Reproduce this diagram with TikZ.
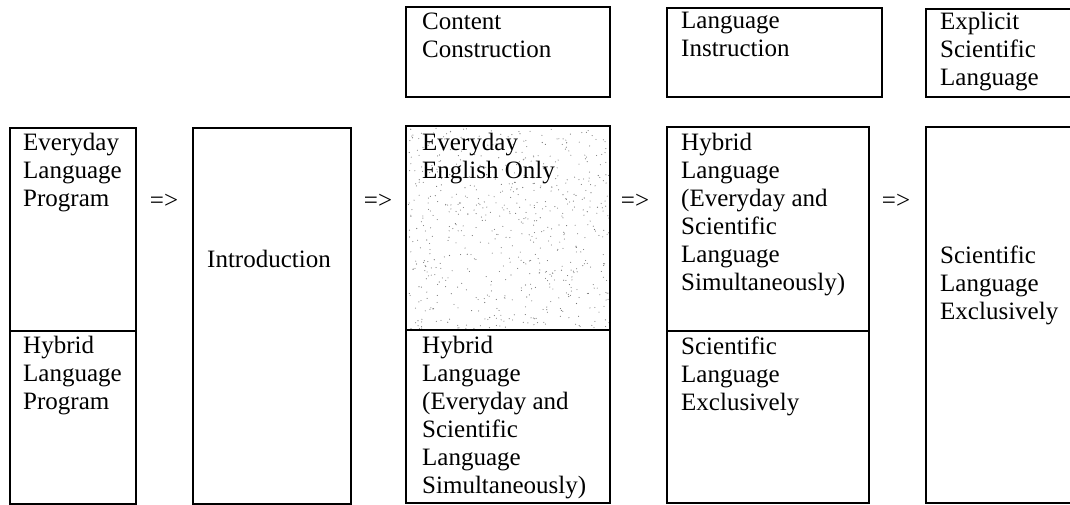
\documentclass[tikz,border=0pt]{standalone}
\usepackage{fontspec}
\setmainfont{Liberation Serif}

\tikzset{
  box/.style={line width=1.5pt},
  txt/.style={anchor=north west, align=left, inner sep=0pt,
    font=\fontsize{25}{28}\selectfont, execute at begin node=\strut},
  imp/.style={anchor=base, inner sep=0pt, font=\fontsize{25}{28}\selectfont}
}

\begin{document}
\begin{tikzpicture}[x=1pt,y=-1pt]
	\useasboundingbox (0,0) rectangle (1070,505);

		% stipple of the "Everyday English Only" cell
		\pgfmathsetseed{42}
		\foreach \i in {1,...,650} {
				\pgfmathsetmacro{\x}{408+201*rnd}
				\pgfmathsetmacro{\y}{128+201*rnd}
				\fill[black!55] (\x,\y) circle (0.55pt);
			}

		% frames
		\draw[box] (10,128) rectangle (136,504);
		\draw[box] (10,331) -- (136,331);
		\draw[box] (193,128) rectangle (351,504);
		\draw[box] (406,7) rectangle (610,97);
		\draw[box] (406,126) rectangle (610,503);
		\draw[box] (406,330) -- (610,330);
		\draw[box] (667,8) rectangle (882,97);
		\draw[box] (667,127) rectangle (869,503);
		\draw[box] (667,331) -- (869,331);
		\draw[box] (926,9) rectangle (1076,97);
		\draw[box] (926,127) rectangle (1076,503);

		% texts (placed by the baseline of their first line)
		\node[txt] (prog1) at (23,153-19.6) {Everyday\\Language\\Program};
		\node[txt] (prog2) at (23,356-19.6) {Hybrid\\Language\\Program};
		\node[txt] (intro) at (207,267-19.6) {Introduction};
		\node[txt] (cchead) at (422,32-19.6) {Content\\Construction};
		\node[txt] (ccup) at (422,153-19.6) {Everyday\\English Only};
		\node[txt] (cclow) at (422,356-19.6) {Hybrid\\Language\\(Everyday and\\Scientific\\Language\\Simultaneously)};
		\node[txt] (lihead) at (681,32-19.6) {Language\\Instruction};
		\node[txt] (liup) at (681,153-19.6) {Hybrid\\Language\\(Everyday and\\Scientific\\Language\\Simultaneously)};
		\node[txt] (lilow) at (681,356-19.6) {Scientific\\Language\\Exclusively};
		\node[txt] (eshead) at (940,32-19.6) {Explicit\\Scientific\\Language};
		\node[txt] (esmain) at (940,265-19.6) {Scientific\\Language\\Exclusively};

		% steps between the columns
		\node[imp] (imp1) at (164,208) {=>};
		\node[imp] (imp2) at (378,208) {=>};
		\node[imp] (imp3) at (635,208) {=>};
		\node[imp] (imp4) at (896,208) {=>};
	\end{tikzpicture}
\end{document}
